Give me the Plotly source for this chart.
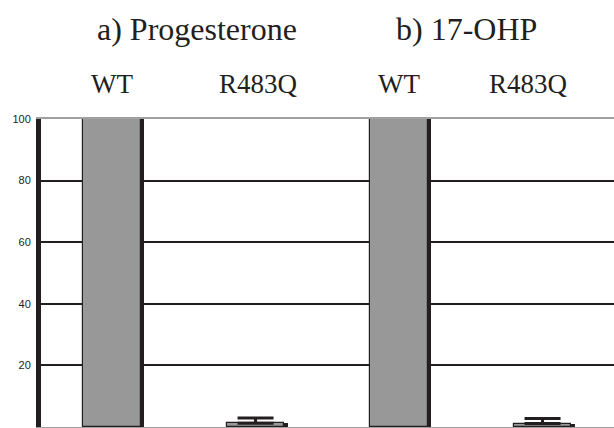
import plotly.graph_objects as go

# ---- data ----
panel_titles = ["a) Progesterone", "b) 17-OHP"]
categories = ["WT", "R483Q", "WT", "R483Q"]
panel_of_bar = [0, 0, 1, 1]
values = [100, 1.2, 100, 1.1]
errors = [0, 1.7, 0, 1.7]
y_ticks = [0, 20, 40, 60, 80, 100]

DARK = "#231f20"
GRAY = "#989898"

idx = list(range(len(categories)))
bar_w = 0.40
shadow_shift = 0.026
label_shifts = [0, 3, 0, -14]   # pixel nudges for header labels
title_shifts = [13, -4]

fig = go.Figure()

# dark shadow behind bars (right edge)
fig.add_trace(go.Bar(
    x=idx, y=values, width=bar_w, offset=-bar_w / 2 + shadow_shift,
    marker=dict(color=DARK, line=dict(width=0)),
    hoverinfo="skip", showlegend=False,
))
# main gray bars
fig.add_trace(go.Bar(
    x=idx, y=values, width=bar_w, offset=-bar_w / 2,
    marker=dict(color=GRAY, line=dict(color=DARK, width=1.2)),
    showlegend=False,
))
# error bars only where an error exists
err_idx = [i for i in idx if errors[i] > 0]
fig.add_trace(go.Scatter(
    x=err_idx, y=[values[i] for i in err_idx], mode="markers",
    marker=dict(size=1, color="rgba(0,0,0,0)"),
    error_y=dict(type="data", symmetric=False,
                 array=[errors[i] for i in err_idx],
                 arrayminus=[0 for _ in err_idx],
                 color=DARK, thickness=3, width=18),
    showlegend=False, hoverinfo="skip",
))

# category labels above plot
for i, c in zip(idx, categories):
    fig.add_annotation(x=i, y=1.113, xref="x", yref="paper", text=c,
                       showarrow=False, yanchor="middle", xshift=label_shifts[i],
                       font=dict(family="Liberation Serif", size=27, color=DARK))
# panel titles
for p, t in enumerate(panel_titles):
    members = [i for i in idx if panel_of_bar[i] == p]
    xm = sum(members) / len(members)
    fig.add_annotation(x=xm, y=1.291, xref="x", yref="paper", text=t,
                       showarrow=False, yanchor="middle", xshift=title_shifts[p],
                       font=dict(family="Liberation Serif", size=32, color=DARK))

fig.update_layout(
    width=614, height=428,
    margin=dict(l=41, r=0, t=119, b=1),
    paper_bgcolor="white", plot_bgcolor="white",
    barmode="overlay", bargap=0,
    xaxis=dict(range=[-0.495, 3.498], showticklabels=False, showgrid=False,
               zeroline=False, showline=True, linecolor="#a0a0a0",
               linewidth=2, mirror=True, ticks=""),
    yaxis=dict(range=[0, 100], tickvals=y_ticks, showgrid=True,
               gridcolor=DARK, gridwidth=1.5, zeroline=False,
               showline=True, linecolor=DARK, linewidth=5,
               ticks="outside", ticklen=3, tickcolor="rgba(0,0,0,0)",
               tickfont=dict(family="Liberation Sans", size=11, color=DARK)),
)

fig.write_html("out.html", config={"displayModeBar": False},
               post_script="document.body.style.margin='0';document.body.style.overflow='hidden';")
